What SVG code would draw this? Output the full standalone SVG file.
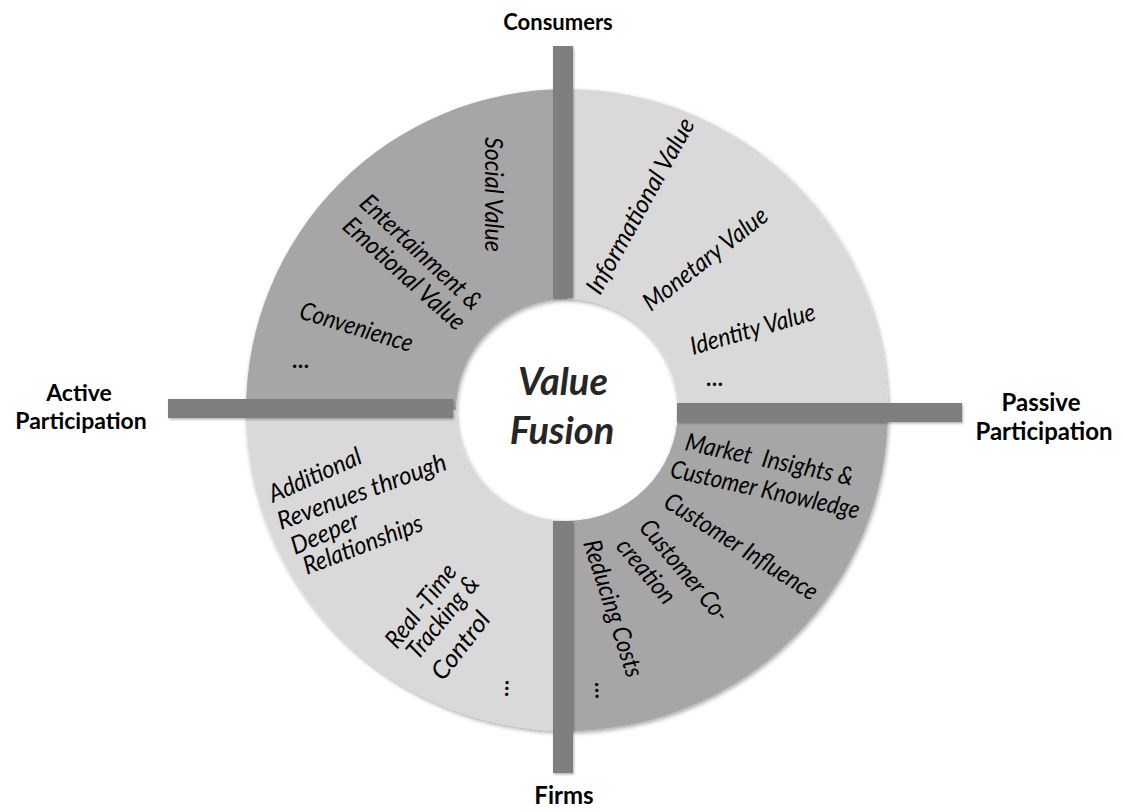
<svg xmlns="http://www.w3.org/2000/svg" width="1123" height="812" viewBox="0 0 1123 812">
  <defs>
    <filter id="soft" x="-10%" y="-10%" width="120%" height="120%">
      <feDropShadow dx="1" dy="2" stdDeviation="2" flood-color="#000" flood-opacity="0.35"/>
    </filter>
    <filter id="barsh" x="-10%" y="-20%" width="120%" height="160%">
      <feDropShadow dx="1" dy="1.5" stdDeviation="1.2" flood-color="#000" flood-opacity="0.3"/>
    </filter>
  </defs>
  <style>
    .dark { fill: #a6a6a6; }
    .light { fill: #d9d9d9; }
    .bar { fill: #7f7f7f; }
    .lbl { font-family: Lato, "Open Sans", "Liberation Sans", sans-serif; font-style: italic; font-size: 25px; fill: #000; white-space: pre; }
    .dots { font-family: Lato, "Liberation Sans", sans-serif; font-weight: bold; font-size: 22px; fill: #000; }
    .axis { font-family: Lato, "Liberation Sans", sans-serif; font-weight: bold; fill: #000; text-anchor: middle; }
    .center { font-family: Lato, "Liberation Sans", sans-serif; font-weight: bold; font-style: italic; font-size: 38px; fill: #262626; text-anchor: middle; }
  </style>
  <rect width="1123" height="812" fill="#fff"/>

  <g id="quadrant-consumers-active" filter="url(#soft)">
    <path class="dark" d="M246,410 A321,321 0 0 1 567,89 L567,299 A111,111 0 0 0 456,410 Z"/>
  </g>
  <g id="quadrant-consumers-passive" filter="url(#soft)">
    <path class="light" d="M567,89 A321,321 0 0 1 888,410 L678,410 A111,111 0 0 0 567,299 Z"/>
  </g>
  <g id="quadrant-firms-passive" filter="url(#soft)">
    <path class="dark" d="M888,410 A321,321 0 0 1 567,731 L567,521 A111,111 0 0 0 678,410 Z"/>
  </g>
  <g id="quadrant-firms-active" filter="url(#soft)">
    <path class="light" d="M567,731 A321,321 0 0 1 246,410 L456,410 A111,111 0 0 0 567,521 Z"/>
  </g>

  <g id="connectors" filter="url(#barsh)">
    <rect class="bar" x="553" y="46" width="20" height="252"/>
    <rect class="bar" x="553" y="521" width="20" height="252"/>
    <rect class="bar" x="168" y="399" width="285" height="19"/>
    <rect class="bar" x="677" y="403" width="285" height="19"/>
  </g>

  <g id="labels-consumers-active">
    <text class="lbl" transform="translate(485,137) rotate(90)" textLength="115" lengthAdjust="spacingAndGlyphs">Social Value</text>
    <text class="lbl" transform="translate(358,205) rotate(43)" textLength="156" lengthAdjust="spacingAndGlyphs">Entertainment &amp;</text>
    <text class="lbl" transform="translate(341,228) rotate(42)" textLength="155" lengthAdjust="spacingAndGlyphs">Emotional Value</text>
    <text class="lbl" transform="translate(298,318) rotate(17)" textLength="117" lengthAdjust="spacingAndGlyphs">Convenience</text>
    <text class="dots" transform="translate(292,368)">…</text>
  </g>

  <g id="labels-consumers-passive">
    <text class="lbl" transform="translate(600,296) rotate(-61)" textLength="197" lengthAdjust="spacingAndGlyphs">Informational Value</text>
    <text class="lbl" transform="translate(651,312) rotate(-38)" textLength="151" lengthAdjust="spacingAndGlyphs">Monetary Value</text>
    <text class="lbl" transform="translate(693,355) rotate(-16)" textLength="129" lengthAdjust="spacingAndGlyphs">Identity Value</text>
    <text class="dots" transform="translate(706,386)">…</text>
  </g>

  <g id="labels-firms-passive">
    <text class="lbl" transform="translate(684,450) rotate(12)" textLength="171" lengthAdjust="spacingAndGlyphs">Market  Insights &amp;</text>
    <text class="lbl" transform="translate(669,477) rotate(12.5)" textLength="193" lengthAdjust="spacingAndGlyphs">Customer Knowledge</text>
    <text class="lbl" transform="translate(662,506) rotate(32.5)" textLength="177" lengthAdjust="spacingAndGlyphs">Customer Influence</text>
    <text class="lbl" transform="translate(638,528) rotate(50)" textLength="125" lengthAdjust="spacingAndGlyphs">Customer Co-</text>
    <text class="lbl" transform="translate(615,547) rotate(50)" textLength="77" lengthAdjust="spacingAndGlyphs">creation</text>
    <text class="lbl" transform="translate(583,543) rotate(72)" textLength="143" lengthAdjust="spacingAndGlyphs">Reducing Costs</text>
    <text class="dots" transform="translate(595,682) rotate(88)">…</text>
  </g>

  <g id="labels-firms-active">
    <text class="lbl" transform="translate(273,503) rotate(-24)" textLength="99" lengthAdjust="spacingAndGlyphs">Additional</text>
    <text class="lbl" transform="translate(281,530) rotate(-20)" textLength="178" lengthAdjust="spacingAndGlyphs">Revenues through</text>
    <text class="lbl" transform="translate(295,555) rotate(-23)" textLength="72" lengthAdjust="spacingAndGlyphs">Deeper</text>
    <text class="lbl" transform="translate(307,575) rotate(-21)" textLength="126" lengthAdjust="spacingAndGlyphs">Relationships</text>
    <text class="lbl" transform="translate(397,650) rotate(-52)" textLength="99" lengthAdjust="spacingAndGlyphs">Real -Time</text>
    <text class="lbl" transform="translate(418,661) rotate(-51)" textLength="99" lengthAdjust="spacingAndGlyphs">Tracking &amp;</text>
    <text class="lbl" transform="translate(443,682) rotate(-52)" textLength="79" lengthAdjust="spacingAndGlyphs">Control</text>
    <text class="dots" transform="translate(508,697) rotate(-88)">…</text>
  </g>

  <g id="node-value-fusion">
    <text class="center" x="563" y="395">Value</text>
    <text class="center" x="562" y="444">Fusion</text>
  </g>

  <g id="axis-consumers">
    <text class="axis" x="558" y="30" font-size="22">Consumers</text>
  </g>
  <g id="axis-firms">
    <text class="axis" x="564" y="804" font-size="24">Firms</text>
  </g>
  <g id="axis-active">
    <text class="axis" font-size="23"><tspan x="79" y="401">Active</tspan><tspan x="81" y="429">Participation</tspan></text>
  </g>
  <g id="axis-passive">
    <text class="axis" font-size="24"><tspan x="1041" y="411">Passive</tspan><tspan x="1044" y="440">Participation</tspan></text>
  </g>
</svg>
